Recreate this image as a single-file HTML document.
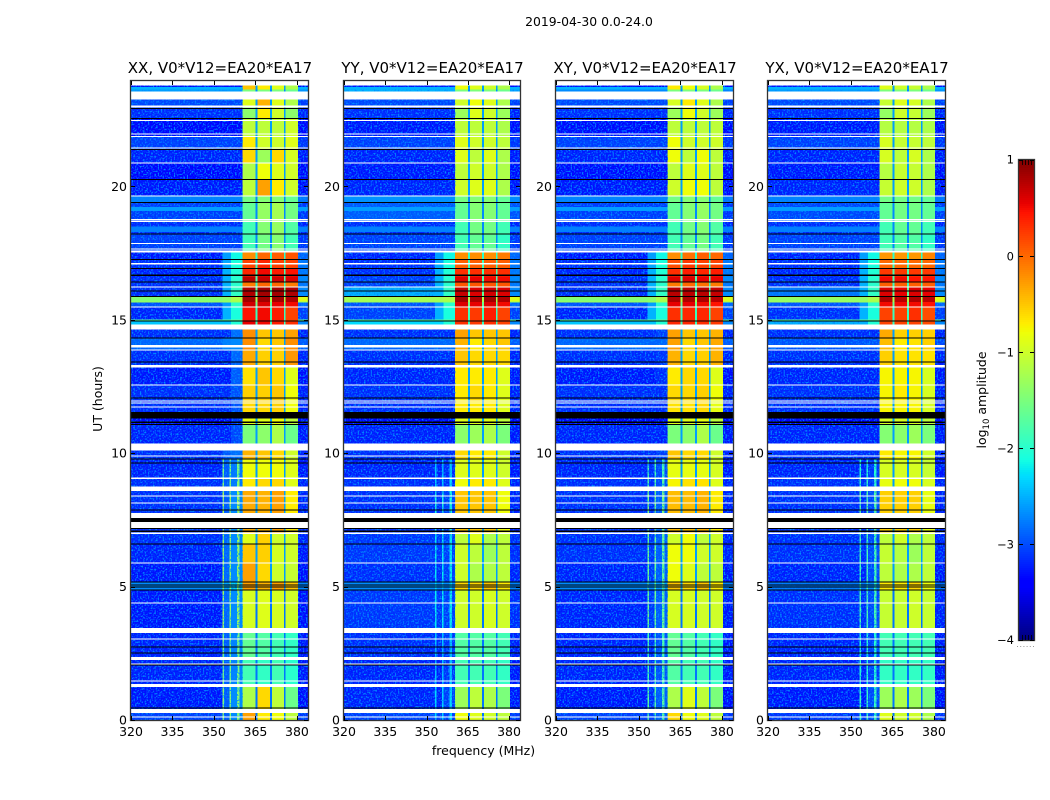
<!DOCTYPE html>
<html lang="en">
<head>
<meta charset="utf-8">
<title>2019-04-30 spectrogram</title>
<style>
html,body{margin:0;padding:0;background:#fff;width:1050px;height:800px;overflow:hidden}
svg{display:block}
text{font-family:"DejaVu Sans","Liberation Sans",sans-serif;fill:#000}
</style>
</head>
<body>
<svg id="chart" xmlns="http://www.w3.org/2000/svg" width="1050" height="800" viewBox="0 0 1050 800">
  <defs>
    <filter id="speckle" x="0" y="0" width="100%" height="100%" color-interpolation-filters="sRGB">
      <feTurbulence type="fractalNoise" baseFrequency="0.62" numOctaves="1" seed="4"/>
      <feColorMatrix type="matrix" values="0 0 0 0 0  0 0 0 0 0.55  0 0 0 0 1  4 0 0 0 -1.9"/>
    </filter>
  </defs>
  <text x="589" y="26" font-size="12.4" text-anchor="middle">2019-04-30 0.0-24.0</text>
  <text x="483.5" y="755" font-size="12.5" text-anchor="middle">frequency (MHz)</text>
  <text x="102" y="399" font-size="12.5" text-anchor="middle" transform="rotate(-90 102 399)">UT (hours)</text>
  <text x="986" y="400" font-size="12.5" text-anchor="middle" transform="rotate(-90 986 400)">log<tspan font-size="8.5" dy="3">10</tspan><tspan dy="-3"> amplitude</tspan></text>
  <g id="panels"></g>
  <g id="colorbar"></g>
</svg>
<script>
// ---------- chart data (log10 amplitude, hours, MHz) ----------
const panelTitles = ["XX, V0*V12=EA20*EA17", "YY, V0*V12=EA20*EA17", "XY, V0*V12=EA20*EA17", "YX, V0*V12=EA20*EA17"];
const xTickLabels = [320, 335, 350, 365, 380];
const yTickLabels = [0, 5, 10, 15, 20];
const colorbarTicks = [1, 0, -1, -2, -3, -4];
const freqEdges = [320, 353, 353.6, 355.6, 356.2, 358.4, 359.2, 360.4, 365, 365.8, 370.2, 370.9, 375.3, 375.9, 380.4, 384];
const hourEdges = [0, .26, 1.24, 2.25, 3.45, 4.87, 5.17, 5.88, 6.59, 7.0, 8.58, 9.06, 9.78, 10.11, 11.05, 11.54, 11.95, 12.55, 13.22, 13.86, 14.31, 14.64, 14.98, 15.47, 15.66, 15.88, 16.22, 16.40, 16.63, 16.93, 17.27, 17.60, 18.20, 18.69, 19.40, 19.63, 20.26, 20.86, 21.39, 21.87, 22.55, 22.96, 23.26, 23.63, 23.78, 24];

// each row: [background, band 1, band 2, band 3, band 4]
const xxLevels = [
[-3.1,-.3,-.7,-.8,-1.1],[-3.3,-1.2,-.6,-1.1,-1.6],[-3.25,-1.85,-1.95,-1.85,-2],[-3.25,-1.65,-1.75,-1.85,-1.95],[-3.3,-.95,-.9,-.95,-1],
[-2.7,-.3,-.4,-.3,-.5],[-3.3,-.3,-.6,-1,-1.05],[-3.25,-.5,-.55,-.95,-1],[-3.2,-.9,-.55,-1,-1],[-3.2,-.35,-.4,-.3,-.7],
[-3.2,-.7,-.6,-.6,-.9],[-3.25,-.8,-.8,-.8,-.9],[-3.2,-.4,-.5,-.6,-1],[-3.25,-1.5,-1.4,-1.2,-1.6],[-3.4,-.85,-.9,-.8,-1.1],
[-3.2,-.6,-.6,-.55,-.8],[-3.2,-.55,-.55,-.5,-.8],[-3.3,-.65,-.5,-.6,-.9],[-3.2,-.35,-.55,-.55,-.25],[-2.9,-.2,-.6,-.5,-.2],
[-3.2,-.2,-.5,-.5,-.3],[-2.4,.55,.5,.4,.3],[-3.25,.45,.5,.4,.2],[-3,.65,.6,.55,.5],[-1.45,.85,.85,.85,.8],
[-3.2,.8,.85,.85,.8],[-3.2,-.1,0,0,-.1],[-3.2,.75,.7,.65,.6],[-3.25,.35,.5,.4,.45],[-3.2,.2,.35,.2,.2],
[-3.3,-.2,0,.05,.1],[-3.1,-1.85,-1.55,-1.45,-1.85],[-3.2,-1.85,-1.45,-1.35,-1.75],[-3.1,-1.65,-1.35,-1.25,-1.55],[-2.75,-1.55,-1.45,-1.45,-1.65],
[-3.3,-1.1,-.3,-.7,-1],[-3.4,-1.2,-.8,-.9,-1],[-3.25,-.6,-1.3,-.6,-.95],[-3.1,-.7,-1,-1,-.9],[-3.4,-1.1,-1.1,-1.1,-1],
[-3.2,-1.4,-.7,-1,-1.4],[-3.05,-.9,-.4,-.9,-1.2],[-2.6,-1.5,-1.5,-1.5,-1.6],[-3.4,-.5,-.7,-.9,-1.2],[-3.4,-.5,-.7,-.9,-1.2]];
const yyLevels = [
[-3.1,-.8,-.9,-1,-1.1],[-3.25,-1.3,-1.1,-1.2,-1.5],[-3.25,-1.85,-1.85,-1.85,-1.95],[-3.2,-1.75,-1.75,-1.75,-1.85],[-3.15,-1,-1,-.95,-1],
[-2.7,-.6,-.6,-.5,-.7],[-3.2,-1,-1.2,-1.2,-1.1],[-3.15,-1,-1.1,-1.3,-1.1],[-3.15,-1.1,-.9,-1.2,-1.1],[-3.2,-.5,-.5,-.5,-.8],
[-3.2,-.8,-.7,-.7,-.9],[-3.25,-.9,-.9,-.9,-1],[-3.2,-.6,-.7,-.7,-1],[-3.25,-1.4,-1.3,-1.2,-1.5],[-3.4,-.9,-.9,-.9,-1.1],
[-3.2,-.7,-.7,-.7,-.9],[-3.2,-.7,-.6,-.7,-.9],[-3.25,-.7,-.7,-.7,-.9],[-3.2,-.5,-.6,-.6,-.6],[-2.9,-.4,-.7,-.6,-.5],
[-3.2,-.3,-.5,-.5,-.5],[-2.3,.3,.25,.3,.2],[-3.1,.3,.25,.4,.2],[-3,.6,.55,.6,.5],[-1.25,.85,.8,.85,.8],
[-2.5,.7,.6,.65,.6],[-3.1,.1,.1,.1,.1],[-3.1,.6,.55,.5,.5],[-3.2,.3,.3,.3,.3],[-3.2,.05,.05,.05,.05],
[-3.25,-.2,-.2,-.2,-.1],[-3.1,-1.85,-1.65,-1.65,-1.95],[-3.2,-1.85,-1.55,-1.55,-1.85],[-2.95,-1.65,-1.45,-1.45,-1.65],[-2.65,-1.55,-1.45,-1.45,-1.65],
[-3.25,-1,-.9,-.9,-1.2],[-3.3,-1.1,-1,-1,-1.2],[-3.25,-.9,-1.1,-.9,-1.2],[-3.1,-.9,-1,-1,-1.1],[-3.3,-1.1,-1.1,-1.1,-1.2],
[-3.2,-1.3,-.9,-1,-1.3],[-3.05,-1,-.8,-.9,-1.2],[-2.5,-1.5,-1.5,-1.5,-1.6],[-3.3,-.8,-.9,-1,-1.2],[-3.3,-.8,-.9,-1,-1.2]];
const xyLevels = [
[-3.1,-.6,-.8,-.9,-1.1],[-3.3,-1.2,-.9,-1.1,-1.5],[-3.25,-1.75,-1.85,-1.85,-1.95],[-3.25,-1.65,-1.75,-1.85,-1.95],[-3.25,-.95,-.95,-1,-1],
[-2.7,-.5,-.6,-.5,-.7],[-3.25,-.8,-.9,-1.1,-1.1],[-3.2,-.8,-.8,-1,-1],[-3.2,-1,-.8,-1.1,-1],[-3.2,-.45,-.45,-.4,-.7],
[-3.2,-.75,-.65,-.65,-.9],[-3.25,-.85,-.85,-.85,-.95],[-3.2,-.5,-.6,-.6,-1],[-3.25,-1.5,-1.4,-1.2,-1.6],[-3.4,-.9,-.9,-.85,-1.1],
[-3.2,-.65,-.65,-.6,-.85],[-3.2,-.6,-.6,-.55,-.8],[-3.3,-.7,-.6,-.6,-.9],[-3.2,-.4,-.6,-.55,-.4],[-2.9,-.3,-.6,-.5,-.35],
[-3.2,-.3,-.5,-.5,-.4],[-2.4,.35,.35,.3,.25],[-3.25,.3,.35,.35,.2],[-3,.55,.55,.5,.45],[-1.45,.8,.8,.8,.75],
[-3.2,.75,.75,.75,.7],[-3.2,-.1,0,-.05,-.1],[-3.2,.6,.6,.55,.55],[-3.25,.3,.4,.35,.4],[-3.2,.15,.25,.2,.2],
[-3.3,-.2,-.05,.05,0],[-3.1,-1.85,-1.65,-1.55,-1.85],[-3.2,-1.85,-1.55,-1.45,-1.75],[-3.1,-1.65,-1.45,-1.35,-1.55],[-2.75,-1.55,-1.45,-1.45,-1.65],
[-3.3,-1,-.8,-.8,-1.1],[-3.35,-1.1,-.9,-.9,-1.1],[-3.25,-.8,-1.1,-.8,-1.1],[-3.1,-.8,-1,-1,-1],[-3.35,-1.1,-1.1,-1.1,-1.1],
[-3.2,-1.3,-.8,-1,-1.3],[-3.05,-.95,-.7,-.9,-1.2],[-2.7,-1.5,-1.5,-1.5,-1.6],[-3.4,-.7,-.8,-.95,-1.2],[-3.4,-.7,-.8,-.95,-1.2]];
const yxLevels = [
[-3.15,-.9,-1,-1,-1.2],[-3.3,-1.3,-1.2,-1.3,-1.5],[-3.25,-1.95,-1.95,-1.95,-1.95],[-3.25,-1.85,-1.85,-1.85,-1.85],[-3.2,-1.05,-1.05,-1,-1.05],
[-2.8,-.7,-.7,-.6,-.8],[-3.25,-1.1,-1.2,-1.2,-1.1],[-3.2,-1.05,-1.15,-1.3,-1.1],[-3.2,-1.1,-1,-1.2,-1.1],[-3.2,-.55,-.55,-.55,-.85],
[-3.2,-.85,-.8,-.8,-.95],[-3.25,-.95,-.95,-.95,-1.05],[-3.2,-.7,-.75,-.75,-1],[-3.25,-1.45,-1.4,-1.3,-1.5],[-3.4,-.95,-.95,-.95,-1.1],
[-3.2,-.75,-.75,-.75,-.95],[-3.2,-.75,-.7,-.75,-.95],[-3.25,-.75,-.75,-.75,-.95],[-3.2,-.55,-.65,-.65,-.65],[-3,-.45,-.7,-.65,-.55],
[-3.2,-.35,-.55,-.55,-.55],[-2.5,.2,.2,.2,.15],[-3.2,.2,.2,.3,.15],[-3,.5,.5,.5,.45],[-1.35,.8,.75,.8,.75],
[-2.8,.6,.55,.6,.55],[-3.2,.05,.05,.05,.05],[-3.2,.5,.5,.45,.45],[-3.25,.25,.25,.25,.25],[-3.2,0,0,0,0],
[-3.25,-.25,-.25,-.25,-.15],[-3.1,-1.85,-1.75,-1.75,-1.95],[-3.2,-1.85,-1.65,-1.65,-1.85],[-3.05,-1.65,-1.55,-1.55,-1.65],[-2.75,-1.55,-1.55,-1.55,-1.65],
[-3.25,-1.05,-1,-1,-1.2],[-3.3,-1.15,-1.05,-1.05,-1.2],[-3.25,-.95,-1.1,-.95,-1.2],[-3.1,-.95,-1.05,-1.05,-1.1],[-3.3,-1.15,-1.15,-1.15,-1.2],
[-3.2,-1.35,-1,-1.05,-1.3],[-3.05,-1.05,-.9,-.95,-1.2],[-2.6,-1.5,-1.5,-1.5,-1.6],[-3.3,-.9,-1,-1.05,-1.2],[-3.3,-.9,-1,-1.05,-1.2]];
const panelLevels = [xxLevels, yyLevels, xyLevels, yxLevels];

// shared spectral structure per time row (null = same as background)
const notchLevels = [-2.8,-2.8,-2.8,-2.8,-2.8,-2.6,-2.6,-2.6,-2.6,-2.6,-2.6,-2.6,-2.6,-2.6,-2.6,-2.6,-2.6,-2.6,-2.6,-2.6,-2.6,-1.9,-1.9,-1.6,-1.2,-1.7,-1.9,-1.8,-1.8,-1.9,-2,-2.7,-2.7,-2.7,-2.7,-2.6,-2.6,-2.6,-2.6,-2.6,-2.6,-2.6,-2.7,-2.6,-2.6];
const lineLevels = [-1.4,-1.4,-1.5,-1.5,-1.3,-1.4,-1.3,-1.3,-1.3,-1.2,-1.4,-1.5,null,null,null,null,null,null,null,null,null,null,null,null,null,null,null,null,null,null,null,null,null,null,null,null,null,null,null,null,null,null,null,null,null];
const skirtInner = [-3.1,-3.1,-3.1,-3.1,-3.05,-2.7,-3.05,-3.05,-3.05,-3.1,-3.1,-3.1,-3.1,null,null,null,null,null,null,-2.9,null,-2.5,-2.5,-2.6,-1.4,-2.5,-2.5,-2.5,-2.5,-2.55,-2.6,null,null,null,null,null,null,null,null,null,null,null,null,null,null];
const skirtOuter = [-2.85,-2.85,-2.9,-2.9,-2.85,-2.5,-2.85,-2.85,-2.85,-2.85,-2.95,-2.95,-3,-3.2,-3.3,-3.15,-3.15,-3.1,-3.05,-2.85,-3,-2.05,-2.1,-2,-1.2,-1.95,-2,-2,-2.05,-2.1,-2.15,null,null,null,null,null,null,null,null,null,null,null,null,null,null];
const edgeLevels = [null,null,null,null,null,null,null,null,null,null,null,null,null,null,null,null,null,null,null,null,null,-2.7,-3.1,-2.9,-.9,-2.7,-2.8,-2.7,-2.8,-2.8,-2.9,null,null,null,null,null,null,null,null,null,null,null,null,null,null];
const lineOffsets = [0, -.9, -.3, -.5];
const skirtOffsets = [.15, -.25, -.1, -.2];
// brighter time strips across the off-band channels: [start hour, end hour, level]
const backgroundStrips = [[19.08,19.23,-2.6],[18.29,18.5,-2.75],[23.63,23.72,-2.5],[15.64,15.68,-1.3],[14.98,15.02,-1.7]];

// flagged (missing) and dropped-out time ranges, hours
const whiteGaps = [[.09,.13],[.26,.41],[1.24,1.35],[1.44,1.48],[2.08,2.12],[2.25,2.36],[3.02,3.06],[3.26,3.45],[4.36,4.4],[5.86,5.9],[6.98,7.02],[7.2,7.42],[7.57,7.75],[8.11,8.15],[8.37,8.41],[8.58,8.76],[9.04,9.08],[9.87,9.91],[10.11,10.37],[11.71,11.75],[11.86,11.9],[11.93,11.97],[12.53,12.57],[13.22,13.3],[13.84,13.88],[13.97,14.05],[14.64,14.83],[15.46,15.5],[16.21,16.25],[17.08,17.12],[17.53,17.6],[17.64,17.68],[17.84,17.88],[18.67,18.71],[18.73,18.77],[19.62,19.66],[20.85,20.89],[21.42,21.46],[21.85,21.89],[21.94,21.98],[22.45,22.49],[22.96,23.03],[23.26,23.56],[23.78,23.95]];
const blackGaps = [[.43,.47],[2.04,2.08],[2.49,2.53],[2.72,2.76],[4.85,4.89],[4.96,5],[5.04,5.08],[5.15,5.19],[6.57,6.61],[7.05,7.1],[7.15,7.2],[7.42,7.57],[7.85,7.89],[9.61,9.65],[9.76,9.8],[11.05,11.09],[11.14,11.18],[11.3,11.54],[12.05,12.09],[13.4,13.44],[14.29,14.33],[14.94,14.98],[15.86,15.9],[16.06,16.1],[16.4,16.44],[16.65,16.69],[16.9,16.94],[17.24,17.28],[18.19,18.23],[19.38,19.42],[20.24,20.28],[21.37,21.41],[22.53,22.57],[22.9,22.94]];

// ---------- layout ----------
const NS = "http://www.w3.org/2000/svg";
const frames = [{l:131,w:177},{l:344,w:176},{l:556,w:177},{l:768,w:177}];
const plotTop = 81, plotBottom = 720, hourPx = 26.68, freqMin = 320, freqMax = 384;
const cbar = {l:1019, w:15, t:160, b:640, vMin:-4, vMax:1};
const speckleCutoff = -2.45;
const flareCutoff = -2.4;

function xScale(frame, f){ return frame.l + (f - freqMin) / (freqMax - freqMin) * frame.w; }
function yScale(h){ return plotBottom - h * hourPx; }
function cbarY(v){ return cbar.b - (v - cbar.vMin) / (cbar.vMax - cbar.vMin) * (cbar.b - cbar.t); }

function ramp(t, pts){
  for (let i = 1; i < pts.length; i++) {
    if (t <= pts[i][0]) {
      const a = pts[i-1], b = pts[i];
      return a[1] + (b[1]-a[1]) * (t-a[0]) / (b[0]-a[0]);
    }
  }
  return pts[pts.length-1][1];
}
function jet(v){
  const t = Math.max(0, Math.min(1, (v - cbar.vMin) / (cbar.vMax - cbar.vMin)));
  const r = ramp(t, [[0,0],[.35,0],[.66,1],[.89,1],[1,.5]]);
  const g = ramp(t, [[0,0],[.125,0],[.375,1],[.64,1],[.91,0],[1,0]]);
  const b = ramp(t, [[0,.5],[.11,1],[.34,1],[.65,0],[1,0]]);
  return "rgb(" + Math.round(r*255) + "," + Math.round(g*255) + "," + Math.round(b*255) + ")";
}
function mk(tag, attrs, parent){
  const el = document.createElementNS(NS, tag);
  for (const k in attrs) el.setAttribute(k, attrs[k]);
  parent.appendChild(el);
  return el;
}
function isFlareRow(row){
  return skirtOuter[row] !== null && skirtOuter[row] > flareCutoff;
}
function columnValue(col, row, panel){
  const levels = panelLevels[panel][row];
  const bg = levels[0];
  const off = isFlareRow(row) ? 0 : skirtOffsets[panel];
  const inner = skirtInner[row] === null ? bg : Math.max(bg, skirtInner[row] + off);
  const outer = skirtOuter[row] === null ? bg : Math.max(bg, skirtOuter[row] + off);
  const line = lineLevels[row] === null ? null : lineLevels[row] + lineOffsets[panel];
  switch (col) {
    case 0: return bg;
    case 1: return line === null ? inner : line;
    case 2: return inner;
    case 3: return line === null ? inner : line;
    case 4: return outer;
    case 5: return line === null ? outer : line;
    case 6: return outer;
    case 7: return levels[1];
    case 9: return levels[2];
    case 11: return levels[3];
    case 13: return levels[4];
    case 14: return edgeLevels[row] === null ? bg - .05 : edgeLevels[row];
    default: return notchLevels[row];
  }
}

// ---------- panels ----------
const panelsRoot = document.getElementById("panels");
frames.forEach(function(frame, p){
  const g = mk("g", {}, panelsRoot);
  
  

  const clip = mk("clipPath", {id:"clip"+p}, g);
  mk("rect", {x:frame.l, y:plotTop, width:frame.w, height:plotBottom-plotTop}, clip);

  const cells = mk("g", {"clip-path":"url(#clip"+p+")", "shape-rendering":"crispEdges"}, g);
  
  

  for (let r = 0; r < hourEdges.length - 1; r++) {
    const yT = yScale(hourEdges[r+1]), yB = yScale(hourEdges[r]);
    for (let c = 0; c < freqEdges.length - 1; c++) {
      const x0 = xScale(frame, freqEdges[c]), x1 = xScale(frame, freqEdges[c+1]);
      const cell = mk("rect", {x:x0, y:yT, width:x1-x0, height:yB-yT, fill:jet(columnValue(c, r, p))}, cells);
      
      
    }
    if (panelLevels[p][r][0] < speckleCutoff) {
      const speckleEnd = isFlareRow(r) ? freqEdges[1] : freqEdges[7];
      const sp1 = mk("rect", {x:frame.l, y:yT, width:xScale(frame,speckleEnd)-frame.l, height:yB-yT, filter:"url(#speckle)"}, cells);
      
      
      const sp2 = mk("rect", {x:xScale(frame,380.4), y:yT, width:frame.l+frame.w-xScale(frame,380.4), height:yB-yT, filter:"url(#speckle)"}, cells);
      
      
    }
  }

  backgroundStrips.forEach(function(strip){
    const y0 = yScale(strip[1]);
    const h0 = Math.max(1, (strip[1]-strip[0])*hourPx);
    const left = mk("rect", {x:frame.l, y:y0, width:xScale(frame,360.4)-frame.l, height:h0, fill:jet(strip[2])}, cells);
    
    
    const right = mk("rect", {x:xScale(frame,380.4), y:y0, width:frame.l+frame.w-xScale(frame,380.4), height:h0, fill:jet(strip[2])}, cells);
    
    
  });

  whiteGaps.forEach(function(gap){
    const el = mk("rect", {x:frame.l, y:yScale(gap[1]), width:frame.w, height:Math.max(1,(gap[1]-gap[0])*hourPx), fill:"#fff"}, cells);
    
    
  });
  blackGaps.forEach(function(gap){
    const el = mk("rect", {x:frame.l, y:yScale(gap[1]), width:frame.w, height:Math.max(1,(gap[1]-gap[0])*hourPx), fill:"#000"}, cells);
    
    
  });

  const border = mk("rect", {x:frame.l-.5, y:plotTop-.5, width:frame.w+1, height:plotBottom-plotTop+1, fill:"none", stroke:"#333", "stroke-width":1.3}, g);
  
  

  const title = mk("text", {x:frame.l+frame.w/2+.5, y:73, "font-size":15, "text-anchor":"middle"}, g);
  title.textContent = panelTitles[p];
  
  

  xTickLabels.forEach(function(f){
    const x = Math.round(xScale(frame, f)) + .5;
    const t1 = mk("line", {x1:x, x2:x, y1:plotBottom, y2:plotBottom-4, stroke:"#000", "stroke-width":1}, g);
    
    
    const t2 = mk("line", {x1:x, x2:x, y1:plotTop, y2:plotTop+4, stroke:"#000", "stroke-width":1}, g);
    
    
    const lab = mk("text", {x:xScale(frame, f), y:736, "font-size":12.5, "text-anchor":"middle"}, g);
    lab.textContent = f;
    
    
  });
  yTickLabels.forEach(function(h){
    const y = Math.round(yScale(h)) + .5;
    const t1 = mk("line", {x1:frame.l, x2:frame.l+4, y1:y, y2:y, stroke:"#000", "stroke-width":1}, g);
    
    
    const t2 = mk("line", {x1:frame.l+frame.w, x2:frame.l+frame.w-4, y1:y, y2:y, stroke:"#000", "stroke-width":1}, g);
    
    
    const lab = mk("text", {x:frame.l-4, y:yScale(h)+4.5, "font-size":12.5, "text-anchor":"end"}, g);
    lab.textContent = h;
    
    
  });
});

// ---------- colorbar ----------
const cb = document.getElementById("colorbar");
const cbCells = mk("g", {"shape-rendering":"crispEdges"}, cb);
for (let y = cbar.t; y < cbar.b; y += 2) {
  const v = cbar.vMax - (y + 1 - cbar.t) / (cbar.b - cbar.t) * (cbar.vMax - cbar.vMin);
  const seg = mk("rect", {x:cbar.l, y:y, width:cbar.w, height:2, fill:jet(v)}, cbCells);
  
  
}
const cbFrame = mk("rect", {x:cbar.l-.5, y:cbar.t-.5, width:cbar.w+1, height:cbar.b-cbar.t+1, fill:"none", stroke:"#333", "stroke-width":1.3}, cb);


colorbarTicks.forEach(function(v){
  const y = Math.round(cbarY(v)) + .5;
  const a = mk("line", {x1:cbar.l, x2:cbar.l+4, y1:y, y2:y, stroke:"#000"}, cb);
  
  
  const b = mk("line", {x1:cbar.l+cbar.w-4, x2:cbar.l+cbar.w, y1:y, y2:y, stroke:"#000"}, cb);
  
  
  const lab = mk("text", {x:1014, y:cbarY(v)+(v===1?3.5:v===-4?4:4.5), "font-size":11.5, "text-anchor":"end"}, cb);
  lab.textContent = v < 0 ? "\u2212" + Math.abs(v) : String(v);
  
  
});
[3, 6, 9, 12].forEach(function(dx){
  const top = mk("line", {x1:cbar.l+dx+.5, x2:cbar.l+dx+.5, y1:cbar.t, y2:cbar.t+5, stroke:"#000", "stroke-width":.8}, cb);
  
  
  const bot = mk("line", {x1:cbar.l+dx+.5, x2:cbar.l+dx+.5, y1:cbar.b, y2:cbar.b-5, stroke:"#000", "stroke-width":.8}, cb);
  
  
});
const dots = mk("line", {x1:1017, x2:1035, y1:646.5, y2:646.5, stroke:"#999", "stroke-width":1, "stroke-dasharray":"1 2.2"}, cb);


</script>
</body>
</html>
